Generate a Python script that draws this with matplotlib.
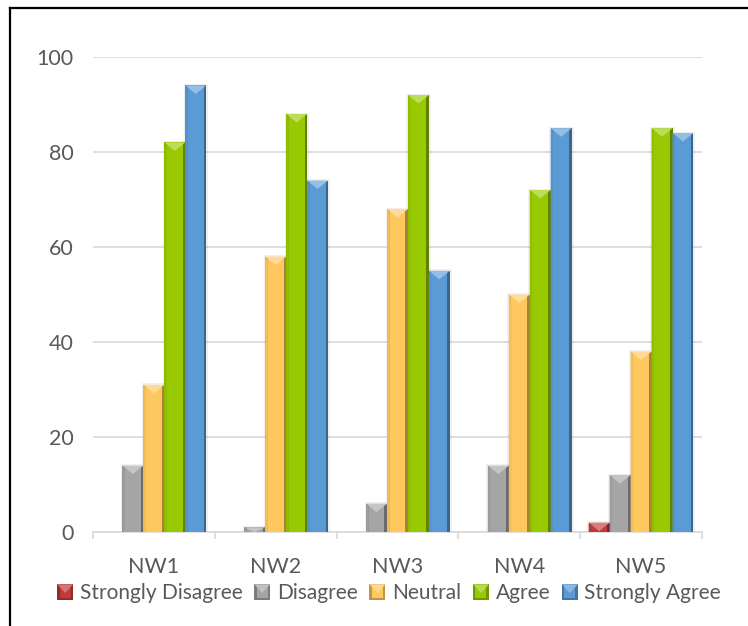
import matplotlib.pyplot as plt
import matplotlib.colors as mcolors
from matplotlib.patches import Polygon, Rectangle
from matplotlib.legend_handler import HandlerPatch
from matplotlib.lines import Line2D
import numpy as np

# ---------------- Survey data ----------------
groups = ['NW1', 'NW2', 'NW3', 'NW4', 'NW5']
responses = ['Strongly Disagree', 'Disagree', 'Neutral', 'Agree', 'Strongly Agree']
strongly_disagree = [0, 0, 0, 0, 2]
disagree = [14, 1, 6, 14, 12]
neutral = [31, 58, 68, 50, 38]
agree = [82, 88, 92, 72, 85]
strongly_agree = [94, 74, 55, 85, 84]
series = [strongly_disagree, disagree, neutral, agree, strongly_agree]

colors = ['#C0393B', '#A5A5A5', '#FFC85E', '#99C900', '#5B9BD5']
text_color = '#595959'
grid_color = '#D9D9D9'

plt.rcParams['font.family'] = ['Lato', 'DejaVu Sans']


def shade(color, amount):
    r, g, b = mcolors.to_rgb(color)
    if amount > 0:
        return (r + (1 - r) * amount, g + (1 - g) * amount, b + (1 - b) * amount)
    return (r * (1 + amount), g * (1 + amount), b * (1 + amount))


def bevel(ax, bar, color):
    """Add side shading and a pointed top facet to a bar."""
    x0, w, h = bar.get_x(), bar.get_width(), bar.get_height()
    if h <= 0:
        return
    side = w * 0.12
    tip = min(1.8, h)
    # soft shadow
    ax.add_patch(Rectangle((x0 - side * 0.6, 0), w + side * 1.4, h + 0.3,
                           color='#000000', alpha=0.06, lw=0, zorder=2))
    ax.add_patch(Rectangle((x0, 0), side, h, color=shade(color, -0.12), lw=0, zorder=4))
    ax.add_patch(Rectangle((x0 + w - side, 0), side, h, color=shade(color, -0.35), lw=0, zorder=4))
    ax.add_patch(Polygon([(x0, h), (x0 + w, h), (x0 + w / 2, h - tip)],
                         closed=True, color=shade(color, 0.35), lw=0, zorder=5))
    ax.add_patch(Polygon([(x0, h), (x0 + side, h - tip * 0.6), (x0 + side, 0), (x0, 0)],
                         closed=True, color=shade(color, -0.05), lw=0, zorder=4))


class BevelHandler(HandlerPatch):
    def create_artists(self, legend, orig_handle, xdescent, ydescent, width, height, fontsize, trans):
        c = orig_handle.get_facecolor()
        s = height
        x0 = -xdescent + (width - s) / 2
        y0 = -ydescent
        base = Rectangle((x0, y0), s, s, facecolor=shade(c, -0.25), lw=0, transform=trans)
        inner = Rectangle((x0 + s * 0.15, y0 + s * 0.15), s * 0.7, s * 0.7, facecolor=c, lw=0, transform=trans)
        tri = Polygon([(x0, y0 + s), (x0 + s, y0 + s), (x0 + s / 2, y0 + s * 0.45)], closed=True,
                      facecolor=shade(c, 0.3), lw=0, transform=trans)
        return [base, inner, tri]


# ---------------- Plotting ----------------
fig = plt.figure(figsize=(7.48, 6.26), dpi=100)
ax = fig.add_axes([0.1243, 0.150, 0.8142, 0.759])

x = np.arange(len(groups))
bar_w = 0.172
handles = []
for i, (name, vals) in enumerate(zip(responses, series)):
    offs = (i - 2) * bar_w
    bars = ax.bar(x + offs, vals, bar_w, color=colors[i], lw=0, zorder=3, label=name)
    handles.append(bars[0])
    for b in bars:
        bevel(ax, b, colors[i])

ax.set_xlim(-0.5, len(groups) - 0.5)
ax.set_ylim(0, 100)
ax.set_yticks(np.arange(0, 101, 20))
ax.yaxis.grid(True, color=grid_color, lw=1.2, zorder=0)
ax.set_axisbelow(True)

ax.set_xticks(x)
ax.set_xticklabels(groups)
ax.set_xticks(np.arange(-0.5, len(groups), 1), minor=True)
ax.tick_params(axis='x', which='major', length=0, pad=18, labelsize=15.5, labelcolor=text_color)
ax.tick_params(axis='x', which='minor', length=5, width=1.2, color=grid_color)
ax.tick_params(axis='y', length=0, pad=14, labelsize=15.5, labelcolor=text_color)

for s in ['top', 'right', 'left']:
    ax.spines[s].set_visible(False)
ax.spines['bottom'].set_color(grid_color)
ax.spines['bottom'].set_linewidth(1.2)

fig.legend(handles, responses, loc='center', bbox_to_anchor=(0.52, 0.052), ncol=5,
           frameon=False, fontsize=15, labelcolor=text_color, handlelength=0.8, handleheight=0.8,
           handletextpad=0.3, columnspacing=0.55,
           handler_map={h: BevelHandler() for h in handles})

# outer frame
fig.add_artist(Line2D([10 / 748, 10 / 748], [0, 1 - 8 / 626], color='black', lw=1.6))
fig.add_artist(Line2D([10 / 748, 1], [1 - 8 / 626, 1 - 8 / 626], color='black', lw=1.6))

plt.savefig('out.png', dpi=100)
